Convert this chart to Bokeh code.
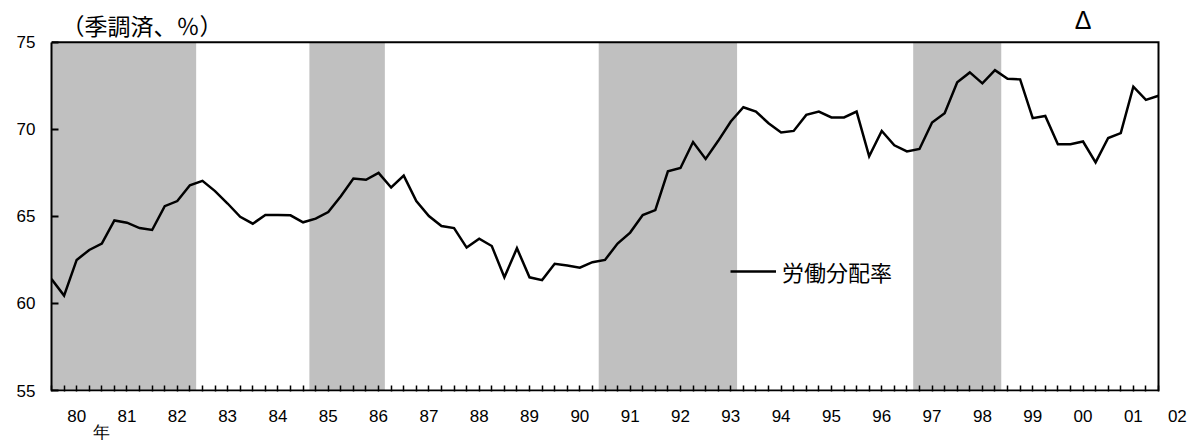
from bokeh.plotting import figure
from bokeh.models import Range1d, FixedTicker, Legend, LegendItem
from bokeh.core.properties import value
from bokeh.embed import file_html
from bokeh.resources import INLINE

# quarterly data, index 0 = 1980 Q1
year_labels = ["80", "81", "82", "83", "84", "85", "86", "87", "88", "89", "90",
               "91", "92", "93", "94", "95", "96", "97", "98", "99", "00", "01"]
last_label = "02"

labor_share = [
    61.4, 60.45, 62.5, 63.07, 63.44, 64.77, 64.64, 64.33, 64.22, 65.59,
    65.88, 66.79, 67.04, 66.45, 65.74, 64.98, 64.58, 65.08, 65.08, 65.06,
    64.66, 64.87, 65.25, 66.16, 67.17, 67.1, 67.5, 66.66, 67.34, 65.88,
    65.02, 64.45, 64.33, 63.21, 63.72, 63.3, 61.5, 63.17, 61.5, 61.34,
    62.28, 62.18, 62.05, 62.37, 62.5, 63.44, 64.07, 65.08, 65.36, 67.59,
    67.78, 69.27, 68.3, 69.34, 70.45, 71.27, 71.02, 70.35, 69.82, 69.91,
    70.83, 71.02, 70.68, 70.68, 71.02, 68.45, 69.91, 69.08, 68.73, 68.87,
    70.39, 70.92, 72.7, 73.27, 72.64, 73.4, 72.9, 72.87, 70.64, 70.77,
    69.15, 69.15, 69.3, 68.1, 69.5, 69.78, 72.45, 71.69, 71.93,
]
quarter_index = list(range(len(labor_share)))

# shaded periods (recessions), in quarter-index units
shade_start = [-0.5, 20.5, 43.5, 68.5]
shade_end = [11.5, 26.5, 54.5, 75.5]

y_ticks = [55, 60, 65, 70, 75]
series_name = "労働分配率"
y_title = "（季調済、％）"
x_unit = "年"
marker_text = "Δ"

NUM_FONT = "Liberation Sans"
CJK_FONT = "Noto Sans CJK JP"

# ---- layout (pixels) ----
W, H = 1188, 444
BOX_LEFT, BOX_RIGHT, BOX_TOP, BOX_BOTTOM = 51, 1158, 42, 392
FRAME_BOTTOM = BOX_BOTTOM + 1           # frame slightly below box bottom line
n_q = len(year_labels) * 4              # 88 quarters across the box
y0, y1 = y_ticks[0], y_ticks[-1]

px_per_q = (BOX_RIGHT - BOX_LEFT) / n_q
px_per_y = (BOX_BOTTOM - BOX_TOP) / (y1 - y0)
x_end = (W - BOX_LEFT) / px_per_q                       # frame runs to canvas right
y_start = y0 - (FRAME_BOTTOM - BOX_BOTTOM) / px_per_y
y_end = y1 + BOX_TOP / px_per_y                          # frame runs to canvas top

p = figure(width=W, height=H, output_backend="svg", toolbar_location=None,
           x_range=Range1d(0, x_end), y_range=Range1d(y_start, y_end),
           min_border_left=BOX_LEFT, min_border_right=0, min_border_top=0,
           min_border_bottom=H - FRAME_BOTTOM)
p.xgrid.visible = False
p.ygrid.visible = False
p.outline_line_color = None
p.background_fill_color = "white"
p.border_fill_color = "white"

p.quad(left=shade_start, right=shade_end, bottom=y0, top=y1,
       fill_color="#c0c0c0", line_color=None)
r = p.line(quarter_index, labor_share, line_color="black", line_width=2.5,
           line_join="miter")
# box: top, right and bottom sides (left side is the y axis line)
p.line([0, n_q, n_q, 0], [y1, y1, y0, y0], line_color="black", line_width=2,
       line_join="miter")

# x axis: quarterly ticks, year labels centred in each year
year_centres = [4 * k + 2 for k in range(len(year_labels))]
last_pos = n_q + 1.5
unit_pos = 4                      # unit label sits under the 80/81 boundary
p.xaxis.ticker = FixedTicker(ticks=year_centres + [last_pos, unit_pos],
                             minor_ticks=list(range(n_q + 1)))
overrides = {c: lab for c, lab in zip(year_centres, year_labels)}
overrides[last_pos] = last_label
overrides[unit_pos] = "\n" + x_unit
p.xaxis.major_label_overrides = overrides
p.xaxis.axis_line_color = None
p.xaxis.major_tick_line_color = None
p.xaxis.minor_tick_in = 6
p.xaxis.minor_tick_out = 0
p.xaxis.minor_tick_line_width = 1.5
p.xaxis.minor_tick_line_color = "black"
p.xaxis.major_label_standoff = 9
p.xaxis.major_label_text_font = NUM_FONT
p.xaxis.major_label_text_font_size = "17px"
p.xaxis.major_label_text_line_height = 0.85
p.xaxis.major_label_text_color = "black"

p.yaxis.ticker = FixedTicker(ticks=y_ticks)
p.yaxis.bounds = (y0, y1)
p.yaxis.major_tick_in = 7
p.yaxis.major_tick_out = 0
p.yaxis.minor_tick_line_color = None
p.yaxis.major_tick_line_width = 2
p.yaxis.axis_line_width = 2
p.yaxis.major_label_standoff = 16
p.yaxis.major_label_text_font = NUM_FONT
p.yaxis.major_label_text_font_size = "17px"
p.yaxis.major_label_text_color = "black"

legend = Legend(items=[LegendItem(label=series_name, renderers=[r])],
                location=(679, 104), padding=0, margin=0, spacing=0,
                glyph_width=46, glyph_height=22, label_height=22,
                label_standoff=6, label_text_font=CJK_FONT,
                label_text_font_size="22px", label_text_color="black",
                border_line_alpha=0, background_fill_alpha=0)
p.add_layout(legend)

# texts above the box (inside the extended frame)
p.text(x=[0], y=[y1], text=[y_title], x_offset=10, y_offset=-17,
       text_font=value(CJK_FONT), text_font_size=value("23px"),
       text_align="left", text_baseline="middle", text_color="black")
p.text(x=[82], y=[y1], text=[marker_text], y_offset=-22,
       text_font=value(NUM_FONT), text_font_size=value("25px"),
       text_align="center", text_baseline="middle", text_color="black")

open("out.html", "w", encoding="utf-8").write(file_html(p, INLINE))
